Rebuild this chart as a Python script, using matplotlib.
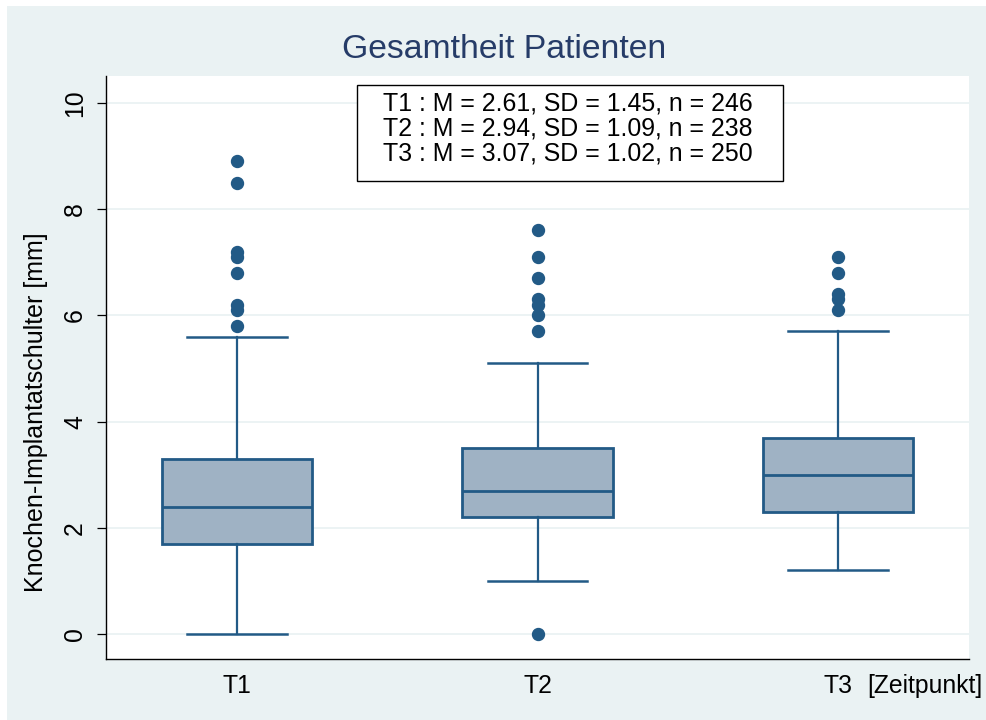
import matplotlib
matplotlib.use("Agg")
import matplotlib.pyplot as plt
from matplotlib.patches import Rectangle

plt.rcParams['font.family'] = ['Liberation Sans', 'DejaVu Sans']

# Zeitpunkte und Boxplot-Kennwerte (Knochen-Implantatschulter in mm)
zeitpunkte = ["T1", "T2", "T3"]
median = [2.4, 2.7, 3.0]
q1 = [1.7, 2.2, 2.3]
q3 = [3.3, 3.5, 3.7]
whisker_lo = [0.0, 1.0, 1.2]
whisker_hi = [5.6, 5.1, 5.7]
ausreisser = [
    [8.9, 8.5, 7.2, 7.1, 6.8, 6.2, 6.1, 5.8],
    [7.6, 7.1, 6.7, 6.3, 6.2, 6.0, 5.7, 0.0],
    [7.1, 6.8, 6.4, 6.3, 6.1],
]

# Deskriptive Statistik fuer die Textbox
mittelwert = [2.61, 2.94, 3.07]
sd = [1.45, 1.09, 1.02]
n = [246, 238, 250]

navy = '#225a86'
fill = '#9fb2c4'
bg = '#eaf2f3'

fig = plt.figure(figsize=(9.87, 7.2), dpi=100, facecolor='white')
fig.patches.append(Rectangle((7 / 987, 0), 1, 1 - 6 / 720,
                             transform=fig.transFigure, facecolor=bg,
                             edgecolor='none', zorder=-10))

ax = fig.add_axes([106 / 987, 1 - 659 / 720, 863 / 987, 583 / 720])
ax.set_facecolor('white')

stats = []
for i, lab in enumerate(zeitpunkte):
    stats.append(dict(label=lab, med=median[i], q1=q1[i], q3=q3[i],
                      whislo=whisker_lo[i], whishi=whisker_hi[i],
                      fliers=ausreisser[i]))

ax.bxp(stats, positions=[1, 2, 3], widths=0.5, capwidths=0.33,
       patch_artist=True,
       boxprops=dict(facecolor=fill, edgecolor=navy, linewidth=2.0),
       medianprops=dict(color=navy, linewidth=2.0),
       whiskerprops=dict(color=navy, linewidth=1.6),
       capprops=dict(color=navy, linewidth=1.8),
       flierprops=dict(marker='o', markerfacecolor=navy, markeredgecolor=navy,
                       markersize=8.6, linestyle='none'),
       zorder=3)

ax.set_xlim(0.564, 3.436)
ax.set_ylim(-0.471, 10.508)
ax.set_yticks([0, 2, 4, 6, 8, 10])
ax.grid(axis='y', color=bg, linewidth=1.3, zorder=0)
ax.set_axisbelow(True)

for s in ['top', 'right']:
    ax.spines[s].set_visible(False)
ax.spines['left'].set_linewidth(1.0)
ax.spines['bottom'].set_linewidth(1.0)

ax.tick_params(axis='y', length=6.5, width=0.9, pad=7, labelsize=17.8)
ax.tick_params(axis='x', length=0, pad=10.5, labelsize=17.8)
for t in ax.get_yticklabels():
    t.set_rotation(90)
    t.set_va('center')

fig.text(867 / 987, 1 - 692.7 / 720, "[Zeitpunkt]", fontsize=17.8,
         ha='left', va='baseline')

fig.text(36 / 987, 1 - 412 / 720, "Knochen-Implantatschulter [mm]",
         fontsize=18, rotation=90, ha='center', va='center')

fig.text(504 / 987, 1 - 58.3 / 720, "Gesamtheit Patienten", fontsize=24.3,
         color='#263c68', ha='center', va='baseline')

# Textbox mit Mittelwert, SD und n
fig.patches.append(Rectangle((357 / 987, 1 - 181 / 720), 426 / 987, 96 / 720,
                             transform=fig.transFigure, facecolor='white',
                             edgecolor='black', linewidth=1.0, zorder=5))
for i, lab in enumerate(zeitpunkte):
    zeile = f"{lab} : M = {mittelwert[i]:.2f}, SD = {sd[i]:.2f}, n = {n[i]}"
    fig.text(568 / 987, 1 - (110.7 + 25 * i) / 720, zeile, fontsize=17.9,
             ha='center', va='baseline', zorder=6)

fig.savefig("out.png", dpi=100, facecolor=fig.get_facecolor())
